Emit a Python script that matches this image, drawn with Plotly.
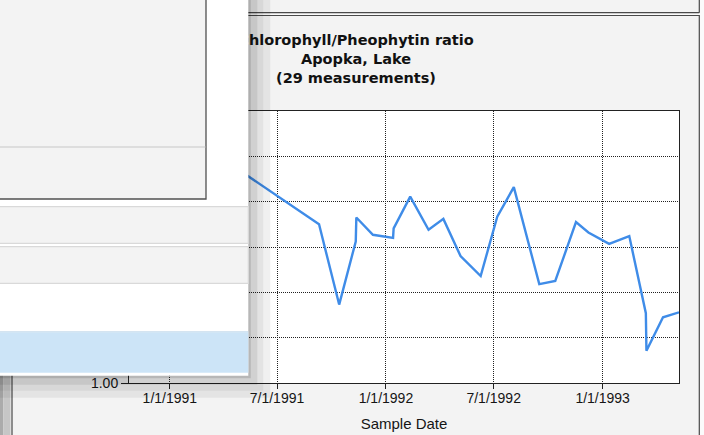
import plotly.graph_objects as go

# ---------------- data ----------------
sample_dates = [
    '1990-10-24', '1990-12-05', '1991-01-22', '1991-03-12', '1991-04-29',
    '1991-09-10', '1991-10-14', '1991-11-11', '1991-11-12', '1991-12-10',
    '1992-01-13', '1992-01-14', '1992-02-11', '1992-03-13', '1992-04-07',
    '1992-05-06', '1992-06-09', '1992-07-07', '1992-08-04', '1992-09-16',
    '1992-10-13', '1992-11-17', '1992-12-08', '1993-01-12', '1993-02-15',
    '1993-03-15', '1993-03-16', '1993-04-13', '1993-05-10',
]
ratio_values = [
    3.95, 5.20, 4.60, 6.10, 5.69,
    4.50, 2.73, 4.12, 4.65, 4.27,
    4.20, 4.41, 5.11, 4.38, 4.62,
    3.80, 3.36, 4.67, 5.32, 3.18,
    3.25, 4.55, 4.32, 4.07, 4.24,
    2.54, 1.71, 2.45, 2.56,
]
x_tick_dates = ['1991-01-01', '1991-07-01', '1992-01-01', '1992-07-01', '1993-01-01']
x_tick_labels = ['1/1/1991', '7/1/1991', '1/1/1992', '7/1/1992', '1/1/1993']
y_tick_values = [1, 2, 3, 4, 5, 6, 7]
x_range = ['1990-10-24', '1993-05-10']
y_range = [1, 7]
title_lines = ['Chlorophyll/Pheophytin ratio', 'Apopka, Lake', '(29 measurements)']
x_title = 'Sample Date'

# ---------------- layout geometry (pixels) ----------------
FIG_W, FIG_H = 704, 435
L, R, T, B = 129, 679, 111, 383


def fx(x):
    return (x - L) / (R - L)


def fy(y):
    return (B - y) / (B - T)


def rect(x0, y0, x1, y1, fill=None, line=None, lw=0, layer='above', opacity=1.0):
    return dict(type='rect', xref='paper', yref='paper',
                x0=fx(x0), x1=fx(x1), y0=fy(y1), y1=fy(y0),
                layer=layer, opacity=opacity,
                fillcolor=fill or 'rgba(0,0,0,0)',
                line=dict(color=line or 'rgba(0,0,0,0)', width=lw))


def seg(x0, y0, x1, y1, color, lw=1, layer='above'):
    return dict(type='line', xref='paper', yref='paper',
                x0=fx(x0), x1=fx(x1), y0=fy(y0), y1=fy(y1),
                layer=layer, line=dict(color=color, width=lw))


shapes = []
# background frame (below)
shapes.append(rect(699.8, -10, 720, 450, fill='#FBFBFB', layer='below'))
shapes.append(rect(-10, 13.2, 699.8, 15.0, fill='#FBFBFB', layer='below'))
shapes.append(seg(-10, 12.7, 699.3, 12.7, '#4a4a4a', 1.2, 'below'))
shapes.append(seg(699.3, -10, 699.3, 12.7, '#4a4a4a', 1.2, 'below'))
shapes.append(rect(12, 15.5, 699.3, 460, line='#4a4a4a', lw=1.2, layer='below'))
shapes.append(rect(-10, -10, 3.3, 460, fill='#ababab', layer='below'))
shapes.append(rect(3.3, -10, 10.5, 460, fill='#c6c6c6', layer='below'))

# overlapping window: shadow
WX, WY = 248.3, 375.7
for k, a in [(22, 0.06), (15, 0.05), (9, 0.08), (2.5, 0.12)]:
    shapes.append(rect(-10, -10, WX + k, WY + k, fill='black', opacity=a))
# window body
shapes.append(rect(-10, -10, WX, WY, fill='#FFFFFF'))
shapes.append(rect(-10, -10, 206, 199, fill='#F3F3F3', line='#505050', lw=1.3))
shapes.append(seg(-10, 147, 205.3, 147, '#d6d6d6', 1.3))
shapes.append(rect(-10, 206.7, WX, 243.3, fill='#F3F3F3', line='#d9d9d9', lw=1.2))
shapes.append(rect(-10, 246.7, WX, 283.3, fill='#F3F3F3', line='#d9d9d9', lw=1.2))
shapes.append(rect(-10, 332.3, WX, 372.8, fill='#CCE4F7'))
shapes.append(seg(-10, 331.8, WX, 331.8, '#c2d9ec', 1))

# first letter of the title lies behind the overlapping (white) window
title_html = ('<span style="color:#FFFFFF">' + title_lines[0][0] + '</span>' + title_lines[0][1:]
              + '<br>' + '<br>'.join(title_lines[1:]))

fig = go.Figure()
fig.add_trace(go.Scatter(
    x=sample_dates, y=ratio_values, mode='lines',
    line=dict(color='#3f8ce8', width=2.4),
    hoverinfo='x+y', showlegend=False,
))

tick_font = dict(family='Liberation Sans, Arial, sans-serif', size=14, color='#151515')

fig.update_layout(
    width=FIG_W, height=FIG_H,
    margin=dict(l=L, r=FIG_W - R, t=T, b=FIG_H - B, pad=0, autoexpand=False),
    paper_bgcolor='#F3F3F3',
    plot_bgcolor='#FFFFFF',
    title=dict(
        text=title_html,
        x=356 / FIG_W, xref='container', xanchor='center',
        y=1 - 45 / FIG_H, yref='container', yanchor='top',
        font=dict(family='DejaVu Sans, Verdana, sans-serif', size=14.5, color='#111111', weight='bold'),
    ),
    xaxis=dict(
        type='date', range=x_range,
        tickvals=x_tick_dates, ticktext=x_tick_labels,
        ticks='outside', ticklen=5, tickwidth=1, tickcolor='#222222',
        ticklabelstandoff=-3,
        tickfont=tick_font,
        showline=True, linecolor='#222222', linewidth=1, mirror=True,
        showgrid=True, gridcolor='#222222', gridwidth=1, griddash='1px,1px',
        zeroline=False,
        title=dict(text=x_title, font=dict(family='Liberation Sans, Arial, sans-serif', size=15, color='#151515'), standoff=13),
    ),
    yaxis=dict(
        range=y_range, tickvals=y_tick_values, tickformat='.2f',
        ticks='outside', ticklen=7, tickwidth=1, tickcolor='#222222',
        tickfont=tick_font,
        showline=True, linecolor='#222222', linewidth=1, mirror=True,
        showgrid=True, gridcolor='#222222', gridwidth=1, griddash='1px,1px',
        zeroline=False,
    ),
    shapes=shapes,
)

fig.write_html('out.html',
               config={'displayModeBar': False},
               post_script="document.body.style.margin='0px';document.body.style.overflow='hidden';")
